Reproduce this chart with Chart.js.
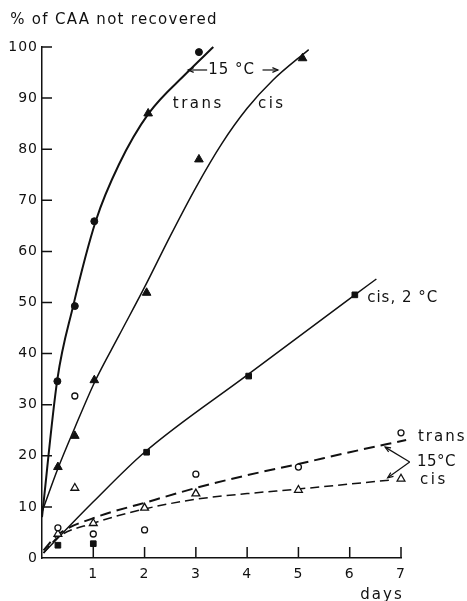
<!DOCTYPE html>
<html><head><meta charset="utf-8">
<script src="https://cdn.jsdelivr.net/npm/chart.js@4/dist/chart.umd.min.js"></script>
<style>html,body{margin:0;padding:0;background:#fff}canvas{display:block}</style>
</head><body>
<canvas id="c" width="467" height="601"></canvas>
<script>
// ---- axis ticks ----
const xTickValues = [1, 2, 3, 4, 5, 6, 7];
const yTickValues = [0, 10, 20, 30, 40, 50, 60, 70, 80, 90, 100];

// ---- measured points ----
// trans, 15 °C (filled circles; one filled triangle at day 2)
const trans15X = [0.3, 0.64, 1.02, 2.07, 3.06];
const trans15Y = [34.6, 49.3, 65.9, 87, 99];
const trans15Style = ['circle', 'circle', 'circle', 'triangle', 'circle'];
const trans15Size = [3.5, 3.5, 3.5, 5, 3.5];
// cis, 15 °C (filled triangles)
const cis15X = [0.31, 0.64, 1.02, 2.04, 3.06, 5.08];
const cis15Y = [17.8, 23.9, 34.8, 51.9, 78, 97.8];
// cis, 2 °C (filled squares)
const cis2X = [0.31, 1.0, 2.04, 4.03, 6.1];
const cis2Y = [2.5, 2.8, 20.7, 35.6, 51.5];
// trans, 15 °C second run (open circles)
const transOpenX = [0.31, 0.64, 1.0, 2.0, 3.0, 5.0, 7.0];
const transOpenY = [5.9, 31.7, 4.7, 5.5, 16.4, 17.8, 24.5];
// cis, 15 °C second run (open triangles)
const cisOpenX = [0.31, 0.64, 1.0, 2.0, 3.0, 5.0, 7.0];
const cisOpenY = [4.7, 13.7, 6.8, 9.8, 12.6, 13.3, 15.5];

// ---- fitted curves ----
const trans15CurveX = [0, 0.3, 0.6, 1.05, 1.5, 2.08, 2.83, 3.34];
const trans15CurveY = [8, 35, 49, 66, 77, 87, 95, 100];
const cis15CurveX = [0, 0.31, 0.64, 1.03, 1.5, 2.0, 2.5, 3.0, 3.5, 4.0, 4.5, 5.2];
const cis15CurveY = [9, 17.5, 25.5, 34.5, 43.5, 53, 63, 72.5, 81, 88, 93.5, 99.5];
const cis2CurveX = [0.03, 1, 2, 4, 6.1, 6.52];
const cis2CurveY = [1, 11, 20.7, 35.8, 51.5, 54.6];
const transDashX = [0.03, 0.3, 1, 2, 3, 4, 5, 6, 7.1];
const transDashY = [1.5, 4.5, 7.8, 10.8, 13.7, 16.2, 18.4, 20.7, 23.1];
const cisDashX = [0.03, 0.3, 1, 2, 3, 4, 5, 6.83];
const cisDashY = [1, 4, 6.8, 9.6, 11.5, 12.6, 13.5, 15.3];

const pts = (xs, ys) => xs.map((x, i) => ({x, y: ys[i]}));
const FONT = '"DejaVu Sans", sans-serif';

function curve(xs, ys, width, dash, order) {
  return {data: pts(xs, ys), showLine: true, borderColor: '#111', borderWidth: width,
    borderDash: dash, pointRadius: 0, cubicInterpolationMode: 'monotone', fill: false,
    clip: false, order};
}
function markers(xs, ys, style, filled, r, order) {
  return {data: pts(xs, ys), showLine: false, pointStyle: style, pointRadius: r,
    pointBackgroundColor: filled ? '#111' : '#fff', pointBorderColor: '#111',
    pointBorderWidth: filled ? 1 : 1.3, clip: false, order};
}

const decor = {
  id: 'decor',
  beforeDraw(chart) { chart.ctx.letterSpacing = '1px'; },
  afterDraw(chart) {
    const ctx = chart.ctx, xs = chart.scales.x, ys = chart.scales.y, a = chart.chartArea;
    const px = v => xs.getPixelForValue(v), py = v => ys.getPixelForValue(v);
    ctx.save();
    ctx.strokeStyle = '#111'; ctx.fillStyle = '#111'; ctx.lineWidth = 1.5;
    // inward tick marks
    ctx.beginPath();
    yTickValues.forEach(v => { if (v > 0) { ctx.moveTo(a.left, py(v)); ctx.lineTo(a.left + 10, py(v)); } });
    xTickValues.forEach(v => { ctx.moveTo(px(v), a.bottom); ctx.lineTo(px(v), a.bottom - 11); });
    ctx.stroke();

    function arrow(x1, y1, x2, y2) {
      const X1 = px(x1), Y1 = py(y1), X2 = px(x2), Y2 = py(y2);
      ctx.lineWidth = 1.2;
      ctx.beginPath(); ctx.moveTo(X1, Y1); ctx.lineTo(X2, Y2); ctx.stroke();
      const ang = Math.atan2(Y2 - Y1, X2 - X1), h = 6;
      ctx.beginPath();
      ctx.moveTo(X2 - h * Math.cos(ang - 0.4), Y2 - h * Math.sin(ang - 0.4));
      ctx.lineTo(X2, Y2);
      ctx.lineTo(X2 - h * Math.cos(ang + 0.4), Y2 - h * Math.sin(ang + 0.4));
      ctx.stroke();
    }
    function text(t, x, y, align, size, spacing) {
      ctx.font = (size || 15) + 'px ' + FONT;
      ctx.letterSpacing = (spacing === undefined ? 2 : spacing) + 'px';
      ctx.textAlign = align || 'left'; ctx.textBaseline = 'middle';
      ctx.fillText(t, px(x), py(y));
    }
    // title (y-axis label)
    text('% of CAA not recovered', -0.62, 105.3, 'left', 15, 1.3);
    // upper annotations
    text('15 °C', 3.24, 95.5, 'left', 15, 1);
    arrow(3.22, 95.5, 2.85, 95.5);
    arrow(4.3, 95.5, 4.6, 95.5);
    text('trans', 2.55, 88.8, 'left', 15, 2.5);
    text('cis', 4.21, 88.8, 'left', 15, 2.5);
    text('cis, 2 °C', 6.34, 50.9, 'left', 15, 1);
    // lower bracket
    arrow(7.17, 18.8, 6.69, 21.7);
    arrow(7.17, 18.8, 6.74, 15.7);
    text('trans', 7.33, 23.7, 'left', 15, 2);
    text('15°C', 7.31, 18.8, 'left', 15, 0.5);
    text('cis', 7.37, 15.3, 'left', 15, 2.5);
    // x-axis unit
    text('days', 6.63, -7.2, 'center', 15, 2);
    ctx.restore();
  }
};

new Chart(document.getElementById('c'), {
  type: 'scatter',
  data: {datasets: [
    markers(trans15X, trans15Y, trans15Style, true, trans15Size, 1),
    markers(cis15X, cis15Y, 'triangle', true, 5, 1),
    markers(cis2X, cis2Y, 'rect', true, 4, 1),
    markers(transOpenX, transOpenY, 'circle', false, 3, 1),
    markers(cisOpenX, cisOpenY, 'triangle', false, 4.5, 1),
    curve(trans15CurveX, trans15CurveY, 2, [], 2),
    curve(cis15CurveX, cis15CurveY, 1.5, [], 2),
    curve(cis2CurveX, cis2CurveY, 1.5, [], 2),
    curve(transDashX, transDashY, 2, [11, 6], 2),
    curve(cisDashX, cisDashY, 1.5, [9, 5], 2)
  ]},
  options: {
    responsive: false, animation: false, devicePixelRatio: 1,
    layout: {padding: {left: 0, right: 66, top: 47, bottom: 0}},
    plugins: {legend: {display: false}, tooltip: {enabled: false}, title: {display: false}},
    scales: {
      x: {type: 'linear', min: 0, max: 7,
        afterFit(s) { s.height = 43; },
        grid: {display: true, drawOnChartArea: false, drawTicks: false},
        border: {display: true, color: '#111', width: 1.5},
        ticks: {stepSize: 1, autoSkip: false, padding: 8, color: '#111',
          font: {family: FONT, size: 14},
          callback: v => (v === 0 ? '' : String(v))}},
      y: {type: 'linear', min: 0, max: 100,
        afterFit(s) { s.width = 42; },
        grid: {display: true, drawOnChartArea: false, drawTicks: false},
        border: {display: true, color: '#111', width: 1.5},
        ticks: {stepSize: 10, autoSkip: false, padding: 4, color: '#111',
          font: {family: FONT, size: 14}}}
    }
  },
  plugins: [decor]
});
</script>
</body></html>
